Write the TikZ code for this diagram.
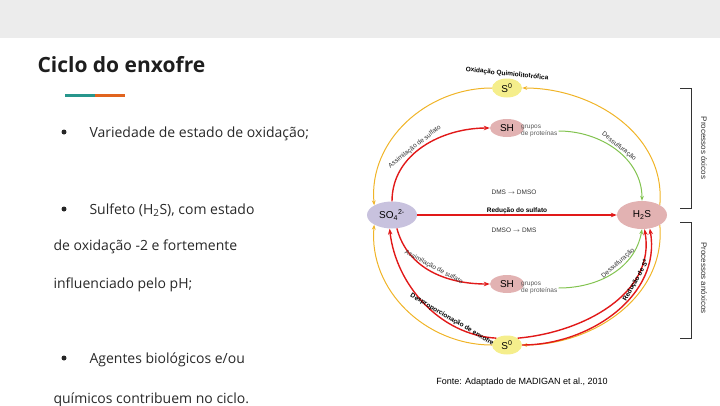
\documentclass[tikz,border=0pt]{standalone}
\usepackage{fontspec}
\setmainfont{Open Sans}
\newfontfamily\arialfont{Liberation Sans}
\usetikzlibrary{arrows.meta,shapes.geometric}
\definecolor{bandgray}{RGB}{236,236,236}
\definecolor{lineteal}{RGB}{40,150,140}
\definecolor{lineorng}{RGB}{225,100,30}
\definecolor{txtc}{RGB}{40,40,40}
\definecolor{titlec}{RGB}{30,30,30}
\definecolor{sulfyel}{RGB}{245,238,140}
\definecolor{sulfpink}{RGB}{226,178,178}
\definecolor{sulflav}{RGB}{200,194,222}
\definecolor{arcyel}{RGB}{240,180,40}
\definecolor{arcred}{RGB}{225,25,25}
\definecolor{arcgreen}{RGB}{130,195,80}
\tikzset{
  txt/.style={anchor=base west, text=txtc, font=\fontsize{14}{16}\selectfont},
  spc/.style={ellipse, inner sep=0pt, font=\arialfont\fontsize{10}{11}\selectfont},
  lbl/.style={text=black!80, font=\arialfont\fontsize{6.5}{7}\selectfont, inner sep=1pt},
  blbl/.style={text=black, font=\arialfont\bfseries\fontsize{6.5}{7}\selectfont, inner sep=1pt},
  yel/.style={arcyel, line width=1pt, -{Stealth[length=5pt]}},
  red/.style={arcred, line width=1.4pt, -{Stealth[length=6pt]}},
  grn/.style={arcgreen, line width=1pt, -{Stealth[length=5pt]}},
}
\begin{document}
\begin{tikzpicture}[x=1pt, y=-1pt]
    \useasboundingbox (0,0) rectangle (720,405);
    \fill[bandgray] (0,0) rectangle (720,38);
    % title and bullets
    \node[anchor=base west, text=titlec, font=\bfseries\fontsize{21}{24}\selectfont] (title) at (34,72) {Ciclo do enxofre};
    \fill[lineteal] (65,93.5) rectangle (95,96.5);
    \fill[lineorng] (95,93.5) rectangle (125,96.5);
    \foreach \y in {132,209,358} \fill[black!85] (64,\y) circle (2.5);
    \node[txt] (b1) at (86,137) {Variedade de estado de oxidação;};
    \node[txt] (b2) at (86,214) {Sulfeto (H\textsubscript{2}S), com estado};
    \node[txt] (b2a) at (50,250) {de oxidação -2 e fortemente};
    \node[txt] (b2b) at (50,288) {influenciado pelo pH;};
    \node[txt] (b3) at (86,363) {Agentes biológicos e/ou};
    \node[txt] (b3a) at (50,403) {químicos contribuem no ciclo.};
    % species
    \node[spc, fill=sulfyel, minimum width=30, minimum height=19] (s0t) at (507,88) {S\textsuperscript{0}};
    \node[spc, fill=sulfpink, minimum width=34, minimum height=18] (sht) at (507,128) {SH};
    \node[spc, fill=sulflav, minimum width=50, minimum height=27] (so4) at (392,215) {SO\textsubscript{4}\textsuperscript{2-}};
    \node[spc, fill=sulfpink, minimum width=50, minimum height=28] (h2s) at (642,215) {H\textsubscript{2}S};
    \node[spc, fill=sulfpink, minimum width=34, minimum height=18] (shb) at (507,284) {SH};
    \node[spc, fill=sulfyel, minimum width=30, minimum height=19] (s0b) at (507,345) {S\textsuperscript{0}};
    \node[lbl, anchor=west, align=left, text=gray!70!black] (gpt) at (520,131) {grupos\\de proteínas};
    \node[lbl, anchor=west, align=left, text=gray!70!black] (gpb) at (520,288) {grupos\\de proteínas};
    % cycle
    \draw[yel] (s0t.west) to[out=180, in=95] (so4.north west);
    \draw[yel] (h2s.north east) to[out=85, in=0] (s0t.east);
    \draw[yel] (s0b.west) to[out=180, in=-95] (so4.south west);
    \draw[yel] (h2s.south east) to[out=-85, in=0] (s0b.east);
    \draw[red] (so4.east) -- node[blbl, above=-1pt] {Redução do sulfato} (h2s.west);
    \draw[red] (so4.north) to[out=90, in=180] node[lbl, sloped, above, pos=0.45] {Assimilação de sulfato} (sht.west);
    \draw[red] (so4.-70) to[out=-75, in=180] node[lbl, sloped, above, pos=0.5] {Assimilação de sulfato} (shb.west);
    \draw[grn] (gpt.east) to[out=0, in=90] node[lbl, sloped, above, pos=0.5] {Dessulfuração} (h2s.north);
    \draw[grn] (gpb.east) to[out=0, in=-100] node[lbl, sloped, above, pos=0.6] {Dessulfuração} (h2s.south);
    \draw[red] (s0b.north west) .. controls (440,335) and (396,285) .. node[blbl, sloped, above, pos=0.3] {Desproporcionação de enxofre} (so4.-100);
    \draw[red] (s0b.north east) to[out=5, in=-80] (h2s.-80);
    \draw[red] (s0b.east) to[out=0, in=-80] node[blbl, sloped, above, pos=0.7] {Redução de S\textsuperscript{0}} (h2s.-60);
    \node[lbl] (dms1) at (514,192) {DMS $\rightarrow$ DMSO};
    \node[lbl] (dms2) at (514,230) {DMSO $\rightarrow$ DMS};
    \node[blbl, rotate=-6] (oxq) at (507,74) {Oxidação Quimiolitotrófica};
    % brackets
    \draw[black!80, line width=0.6pt] (680,88) -- (691,88) -- (691,208) -- (680,208);
    \draw[black!80, line width=0.6pt] (680,222) -- (691,222) -- (691,338) -- (680,338);
    \node[lbl, font=\arialfont\fontsize{8}{9}\selectfont, rotate=-90] (oxi) at (704,148) {Processos óxicos};
    \node[lbl, font=\arialfont\fontsize{8}{9}\selectfont, rotate=-90] (anox) at (704,278) {Processos anóxicos};
    \node[font=\arialfont\fontsize{9}{10}\selectfont] (fonte) at (522,382) {Fonte: Adaptado de MADIGAN et al., 2010};
\end{tikzpicture}
\end{document}
